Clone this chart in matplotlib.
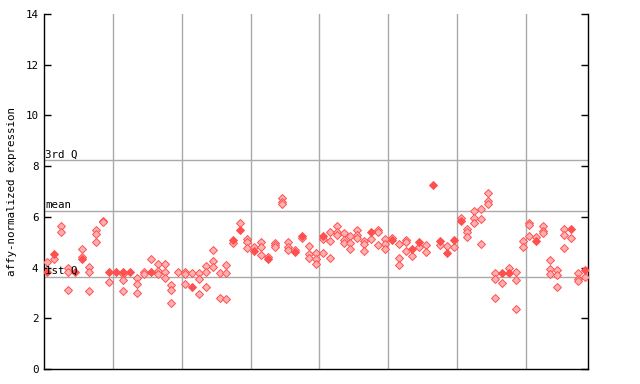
import matplotlib
matplotlib.use("Agg")
import matplotlib.pyplot as plt

# per-sample values: open (dithered) diamonds and filled diamonds
open_values = [
    [4.21], [4.32], [5.64, 5.39], [3.97, 3.81, 3.12], [], [4.72, 4.40],
    [4.01, 3.81, 3.08], [5.48, 5.31, 5.02], [5.84, 5.80], [3.42],
    [], [3.73, 3.50, 3.08], [], [3.58, 3.34, 2.98], [3.81, 3.73], [4.32],
    [4.13, 3.86, 3.76], [4.13, 3.81, 3.60], [3.30, 3.10, 2.59], [3.81],
    [3.82, 3.74, 3.34], [3.77], [3.77, 3.54, 2.94], [4.05, 3.82, 3.22],
    [4.68, 4.25, 4.01], [3.77, 2.79], [4.09, 3.77, 2.75], [4.98], [5.74],
    [5.11, 5.00, 4.76],
    [4.80], [5.02, 4.80, 4.48], [4.43], [4.96, 4.88, 4.80], [6.73, 6.60, 6.49],
    [5.00, 4.80, 4.68], [4.68], [5.15], [4.84, 4.52, 4.36], [4.56, 4.32, 4.13],
    [5.13, 4.56], [5.39, 5.03, 4.36], [5.63, 5.39, 5.28], [5.35, 5.07, 4.96],
    [5.23, 4.96, 4.72], [5.47, 5.27, 5.15], [5.03, 4.92, 4.64], [5.11],
    [5.47, 5.39, 4.88], [5.11, 4.92, 4.72],
    [5.15], [4.92, 4.36, 4.09], [5.07, 5.00, 4.64], [4.44], [4.80],
    [4.88, 4.60], [], [4.88], [4.84], [4.80],
    [5.94], [5.51, 5.39, 5.19], [6.22, 5.94, 5.74], [6.30, 5.90, 4.92],
    [6.93, 6.61, 6.49], [3.77, 3.54, 2.79], [3.38], [3.97], [3.81, 3.50, 2.35],
    [5.03, 4.82],
    [5.74, 5.67, 5.23], [5.19], [5.63, 5.43, 5.35], [4.28, 3.93, 3.73],
    [3.89, 3.69, 3.22], [5.51, 5.27, 4.76], [5.15], [3.77, 3.54, 3.46], [3.61],
]
filled_values = [
    [3.81], [4.52], [], [], [3.81], [4.32], [], [], [], [3.81],
    [3.81], [3.81], [3.81], [], [], [3.81], [], [], [], [],
    [], [3.25], [], [], [], [], [], [5.09], [5.48], [],
    [4.67], [], [4.35], [], [], [], [4.60], [5.23], [], [],
    [5.23], [], [], [], [], [], [], [5.39], [], [],
    [5.07], [], [], [4.72], [5.00], [], [7.27], [5.03], [4.58], [5.07],
    [5.82], [], [], [], [], [], [3.80], [3.80], [], [],
    [], [5.03], [], [], [], [], [5.53], [], [3.92],
]
quartiles = {"3rd Q": 8.23, "mean": 6.23, "1st Q": 3.63}
group_size = 10
y_ticks = [0, 2, 4, 6, 8, 10, 12, 14]

n = len(open_values)
ox, oy, fx, fy = [], [], [], []
for i in range(n):
    for v in open_values[i]:
        ox.append(i); oy.append(v)
    for v in filled_values[i]:
        fx.append(i); fy.append(v)

mono = "DejaVu Sans Mono"
fig = plt.figure(figsize=(6.4, 3.84), dpi=100)
ax = fig.add_axes([44/640, 15/384, 544/640, 355/384])
ax.set_xlim(-0.5, n - 0.5)
ax.set_ylim(0, 14)

grid_c = "#aaaaaa"
for b in range(group_size, n, group_size):
    ax.axvline(b - 0.5, color=grid_c, lw=1, zorder=1)
for label, v in quartiles.items():
    ax.axhline(v, color=grid_c, lw=1, zorder=1)
    ax.text(-0.35, v + 0.04, label, family=mono, fontsize=7.8,
            ha="left", va="bottom", zorder=4)

red = "#ff5050"
ax.plot(ox, oy, "D", ms=3.6, mfc="#ffb0b0", mec=red, mew=0.7, ls="none", zorder=3)
ax.plot(fx, fy, "D", ms=3.8, mfc=red, mec=red, mew=0.7, ls="none", zorder=3)

ax.set_yticks(y_ticks)
ax.set_yticklabels([str(t) for t in y_ticks], family=mono, fontsize=7.8)
ax.set_xticks([])
ax.tick_params(axis="y", direction="in", length=5, width=1, right=True, left=True, pad=4)
ax.spines["top"].set_visible(False)
for s in ["left", "right", "bottom"]:
    ax.spines[s].set_color("black")
    ax.spines[s].set_linewidth(1)
ax.set_ylabel("affy-normalized expression", family=mono, fontsize=7.8, labelpad=6)

fig.savefig("out.png", dpi=100)
